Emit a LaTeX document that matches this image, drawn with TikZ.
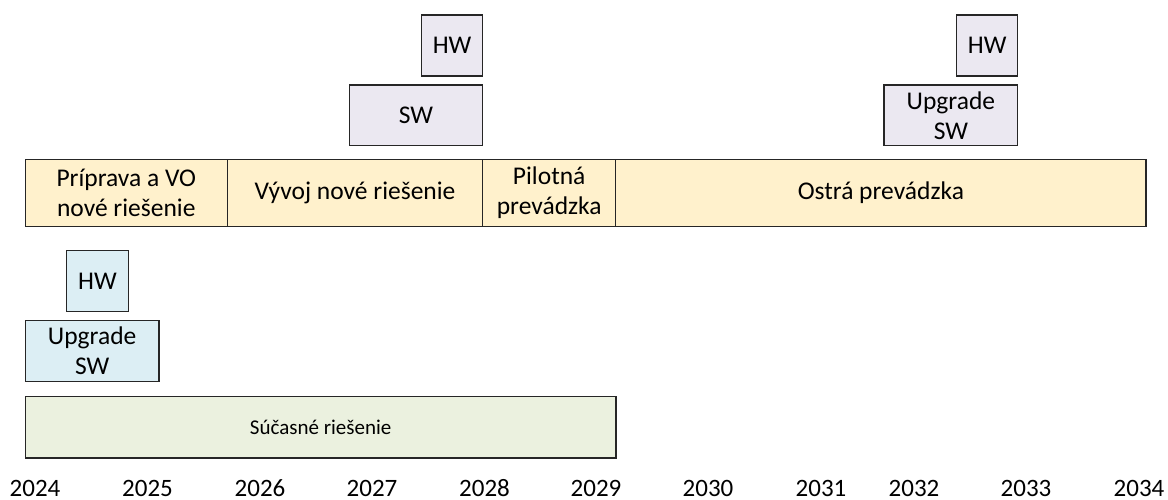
\documentclass[tikz,border=0pt]{standalone}
\usepackage{fontspec}
\setmainfont{Carlito}
\definecolor{edge}{HTML}{262626}
\definecolor{lav}{HTML}{EBE8F1}
\definecolor{sand}{HTML}{FFF1CC}
\definecolor{sky}{HTML}{DCEEF4}
\definecolor{sage}{HTML}{EBF1DF}
\begin{document}
\begin{tikzpicture}[x=1pt,y=-1pt,
  box/.style={draw=edge, line width=1.4pt, inner sep=0pt, outer sep=0pt, align=center,
    font=\fontsize{25.5}{30}\selectfont, text=black},
  topbox/.style={box, fill=lav},
  barbox/.style={box, fill=sand},
  oldbox/.style={box, fill=sky},
  curbox/.style={box, fill=sage, font=\fontsize{21}{25}\selectfont},
  year/.style={inner sep=0pt, anchor=base, font=\fontsize{25}{30}\selectfont}]
\useasboundingbox (0,0) rectangle (1168,499);
\fill[white] (0,0) rectangle (1168,499);
% top boxes
\node[topbox, minimum width=61.2pt, minimum height=61pt] (hwA) at (452.1,45.5) {HW};
\node[topbox, minimum width=133.4pt, minimum height=60.7pt] (swA) at (416,115.35) {SW};
\node[topbox, minimum width=61pt, minimum height=61pt] (hwB) at (987.2,45.5) {HW};
\node[topbox, minimum width=133.7pt, minimum height=60.7pt] (swB) at (950.85,115.35) {Upgrade\\SW};
% main bar
\node[barbox, minimum width=202pt, minimum height=67.4pt] (prep) at (126.3,193) {Príprava a VO\\nové riešenie};
\node[barbox, minimum width=255.4pt, minimum height=67.4pt] (dev) at (355,193) {Vývoj nové riešenie};
\node[barbox, minimum width=133pt, minimum height=67.4pt] (pilot) at (549.2,193) {Pilotná\\prevádzka};
\node[barbox, minimum width=530.3pt, minimum height=67.4pt] (prod) at (880.85,193) {Ostrá prevádzka};
% current solution
\node[oldbox, minimum width=61.6pt, minimum height=61pt] (hwC) at (97.5,281.2) {HW};
\node[oldbox, minimum width=133.7pt, minimum height=61pt] (swC) at (92.15,351.2) {Upgrade\\SW};
\node[curbox, minimum width=590.7pt, minimum height=61.3pt] (cur) at (320.65,427.35) {Súčasné riešenie};
% years
\node[year] (y2024) at (35,496) {2024};
\node[year] (y2025) at (147.5,496) {2025};
\node[year] (y2026) at (260,496) {2026};
\node[year] (y2027) at (372,496) {2027};
\node[year] (y2028) at (484.5,496) {2028};
\node[year] (y2029) at (596,496) {2029};
\node[year] (y2030) at (708,496) {2030};
\node[year] (y2031) at (821,496) {2031};
\node[year] (y2032) at (914,496) {2032};
\node[year] (y2033) at (1026,496) {2033};
\node[year] (y2034) at (1139,496) {2034};
\end{tikzpicture}
\end{document}
